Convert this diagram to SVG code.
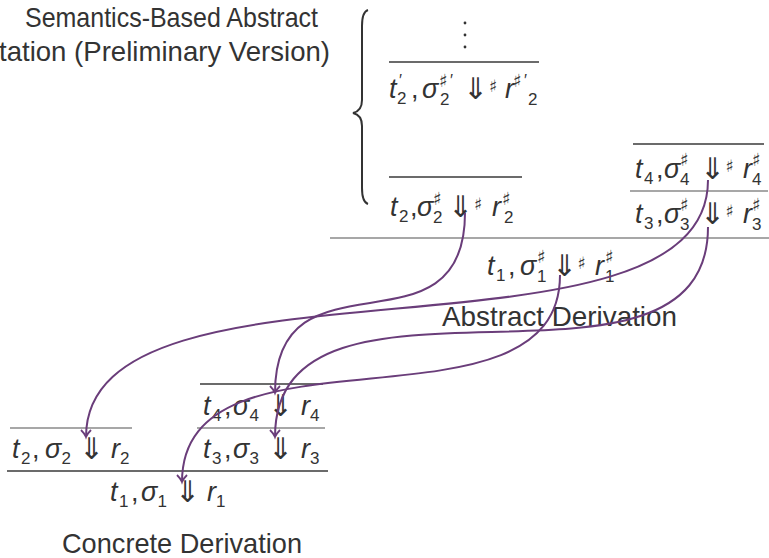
<svg xmlns="http://www.w3.org/2000/svg" width="769" height="558" viewBox="0 0 769 558">
<defs>
<style>
text{font-family:"Liberation Sans","DejaVu Sans",sans-serif;fill:#333}
.lbl{font-size:28px}
.m{font-size:27px}
.i{font-style:italic}
.s{font-size:17px;font-style:normal}
.sh{font-family:"DejaVu Sans",sans-serif;font-size:18px}
.sa{font-family:"DejaVu Sans",sans-serif;font-size:17px}
.ar{font-family:"DejaVu Sans",sans-serif;font-size:30px;text-anchor:middle}
.pr{font-size:16px}
.rd{stroke:#3a3a3a;stroke-width:1.6}
.rg{stroke:#8a8a8a;stroke-width:1.6}
.c{fill:none;stroke:#6a3d7a;stroke-width:2;marker-end:url(#ah)}
</style>
<marker id="ah" markerUnits="userSpaceOnUse" markerWidth="16" markerHeight="16" viewBox="-8 -8 16 16" refX="0" refY="0" orient="auto">
<path d="M-7,-5 C-4,-2 -1.5,-0.5 0,0 C-1.5,0.5 -4,2 -7,5" fill="none" stroke="#6a3d7a" stroke-width="1.8"/>
</marker>
</defs>

<g id="title">
<text class="lbl" x="25" y="27" textLength="293" lengthAdjust="spacingAndGlyphs">Semantics-Based Abstract</text>
<text class="lbl" x="-1" y="61" textLength="331" lengthAdjust="spacingAndGlyphs">tation (Preliminary Version)</text>
</g>

<g id="brace">
<path d="M368,10 Q362,12 362,26 L362,100 Q362,111 353,113 Q362,115 362,126 L362,188 Q362,202 368,204" fill="none" stroke="#333" stroke-width="2"/>
</g>

<g id="abs-t2prime">
<circle cx="465" cy="23" r="1.4" fill="#333"/>
<circle cx="465" cy="35" r="1.4" fill="#333"/>
<circle cx="465" cy="47" r="1.4" fill="#333"/>
<line class="rd" x1="389" y1="62" x2="539" y2="62"/>
<text class="m"><tspan class="i" x="389" y="98">t</tspan><tspan class="pr" x="399" y="86">′</tspan><tspan class="s" x="397" y="104">2</tspan><tspan x="411" y="98">,</tspan><tspan class="i" x="422" y="98">σ</tspan><tspan class="sh" x="439" y="87">♯</tspan><tspan class="pr" x="450" y="86">′</tspan><tspan class="s" x="440" y="105">2</tspan><tspan class="sa" x="489" y="92">♯</tspan><tspan class="i" x="505" y="98">r</tspan><tspan class="sh" x="513" y="87">♯</tspan><tspan class="pr" x="524" y="86">′</tspan><tspan class="s" x="528" y="105">2</tspan></text>
<text class="ar" x="475.5" y="99">⇓</text>
</g>

<g id="abs-t2">
<line class="rd" x1="389" y1="177" x2="522" y2="177"/>
<text class="m"><tspan class="i" x="390" y="216">t</tspan><tspan class="s" x="399" y="222">2</tspan><tspan x="410" y="216">,</tspan><tspan class="i" x="417" y="216">σ</tspan><tspan class="sh" x="433" y="205">♯</tspan><tspan class="s" x="433" y="223">2</tspan><tspan class="sa" x="474" y="210">♯</tspan><tspan class="i" x="492" y="216">r</tspan><tspan class="sh" x="502" y="205">♯</tspan><tspan class="s" x="504" y="223">2</tspan></text>
<text class="ar" x="460.5" y="217">⇓</text>
</g>

<g id="abs-t4">
<line class="rd" x1="633" y1="144" x2="764" y2="144"/>
<text class="m"><tspan class="i" x="635" y="178">t</tspan><tspan class="s" x="644" y="184">4</tspan><tspan x="656" y="178">,</tspan><tspan class="i" x="664" y="178">σ</tspan><tspan class="sh" x="680" y="166">♯</tspan><tspan class="s" x="680" y="185">4</tspan><tspan class="sa" x="725.5" y="172">♯</tspan><tspan class="i" x="743" y="178">r</tspan><tspan class="sh" x="752" y="166">♯</tspan><tspan class="s" x="752" y="185">4</tspan></text>
<text class="ar" x="712.5" y="179">⇓</text>
</g>

<g id="abs-t3">
<line class="rg" x1="630" y1="191" x2="768" y2="191"/>
<text class="m"><tspan class="i" x="635" y="223">t</tspan><tspan class="s" x="644" y="229">3</tspan><tspan x="656" y="223">,</tspan><tspan class="i" x="664" y="223">σ</tspan><tspan class="sh" x="680" y="211">♯</tspan><tspan class="s" x="680" y="230">3</tspan><tspan class="sa" x="725.5" y="217">♯</tspan><tspan class="i" x="743" y="223">r</tspan><tspan class="sh" x="752" y="211">♯</tspan><tspan class="s" x="752" y="230">3</tspan></text>
<text class="ar" x="712.5" y="224">⇓</text>
</g>

<g id="abs-t1">
<line class="rg" x1="330" y1="238" x2="769" y2="238"/>
<text class="m"><tspan class="i" x="487" y="275">t</tspan><tspan class="s" x="496" y="281">1</tspan><tspan x="508" y="275">,</tspan><tspan class="i" x="520" y="275">σ</tspan><tspan class="sh" x="537" y="263">♯</tspan><tspan class="s" x="537" y="282">1</tspan><tspan class="sa" x="577.5" y="269">♯</tspan><tspan class="i" x="595" y="275">r</tspan><tspan class="sh" x="605" y="263">♯</tspan><tspan class="s" x="605" y="282">1</tspan></text>
<text class="ar" x="564.5" y="276">⇓</text>
<text class="lbl" x="442" y="326" textLength="235" lengthAdjust="spacingAndGlyphs">Abstract Derivation</text>
</g>

<g id="con-t4">
<line class="rd" x1="200" y1="384" x2="323" y2="384"/>
<text class="m"><tspan class="i" x="203" y="415">t</tspan><tspan class="s" x="212" y="421">4</tspan><tspan x="224" y="415">,</tspan><tspan class="i" x="233" y="415">σ</tspan><tspan class="s" x="249.5" y="421">4</tspan><tspan class="i" x="301" y="415">r</tspan><tspan class="s" x="310" y="421">4</tspan></text>
<text class="ar" x="280.5" y="416">⇓</text>
</g>

<g id="con-t2">
<line class="rg" x1="10" y1="428" x2="132" y2="428"/>
<text class="m"><tspan class="i" x="12" y="458">t</tspan><tspan class="s" x="21" y="464">2</tspan><tspan x="32" y="458">,</tspan><tspan class="i" x="45" y="458">σ</tspan><tspan class="s" x="61.5" y="464">2</tspan><tspan class="i" x="111" y="458">r</tspan><tspan class="s" x="120" y="464">2</tspan></text>
<text class="ar" x="91.5" y="459">⇓</text>
</g>

<g id="con-t3">
<line class="rg" x1="197" y1="428" x2="325" y2="428"/>
<text class="m"><tspan class="i" x="203" y="458">t</tspan><tspan class="s" x="212" y="464">3</tspan><tspan x="224" y="458">,</tspan><tspan class="i" x="233" y="458">σ</tspan><tspan class="s" x="249.5" y="464">3</tspan><tspan class="i" x="301" y="458">r</tspan><tspan class="s" x="310" y="464">3</tspan></text>
<text class="ar" x="280.5" y="459">⇓</text>
</g>

<g id="con-t1">
<line class="rd" x1="7" y1="471" x2="328" y2="471"/>
<text class="m"><tspan class="i" x="110" y="501">t</tspan><tspan class="s" x="119" y="507">1</tspan><tspan x="131" y="501">,</tspan><tspan class="i" x="141" y="501">σ</tspan><tspan class="s" x="157.5" y="507">1</tspan><tspan class="i" x="207" y="501">r</tspan><tspan class="s" x="216" y="507">1</tspan></text>
<text class="ar" x="187.5" y="502">⇓</text>
<text class="lbl" x="62" y="553" textLength="240" lengthAdjust="spacingAndGlyphs">Concrete Derivation</text>
</g>

<g id="connectors">
<path class="c" d="M465,213 C465,363 275,243 275,393"/>
<path class="c" d="M708,180 C708,380 86,237 86,437"/>
<path class="c" d="M708,227 C708,427 275,237 275,437"/>
<path class="c" d="M560,275 C560,445 182,312 182,482"/>
</g>
</svg>
